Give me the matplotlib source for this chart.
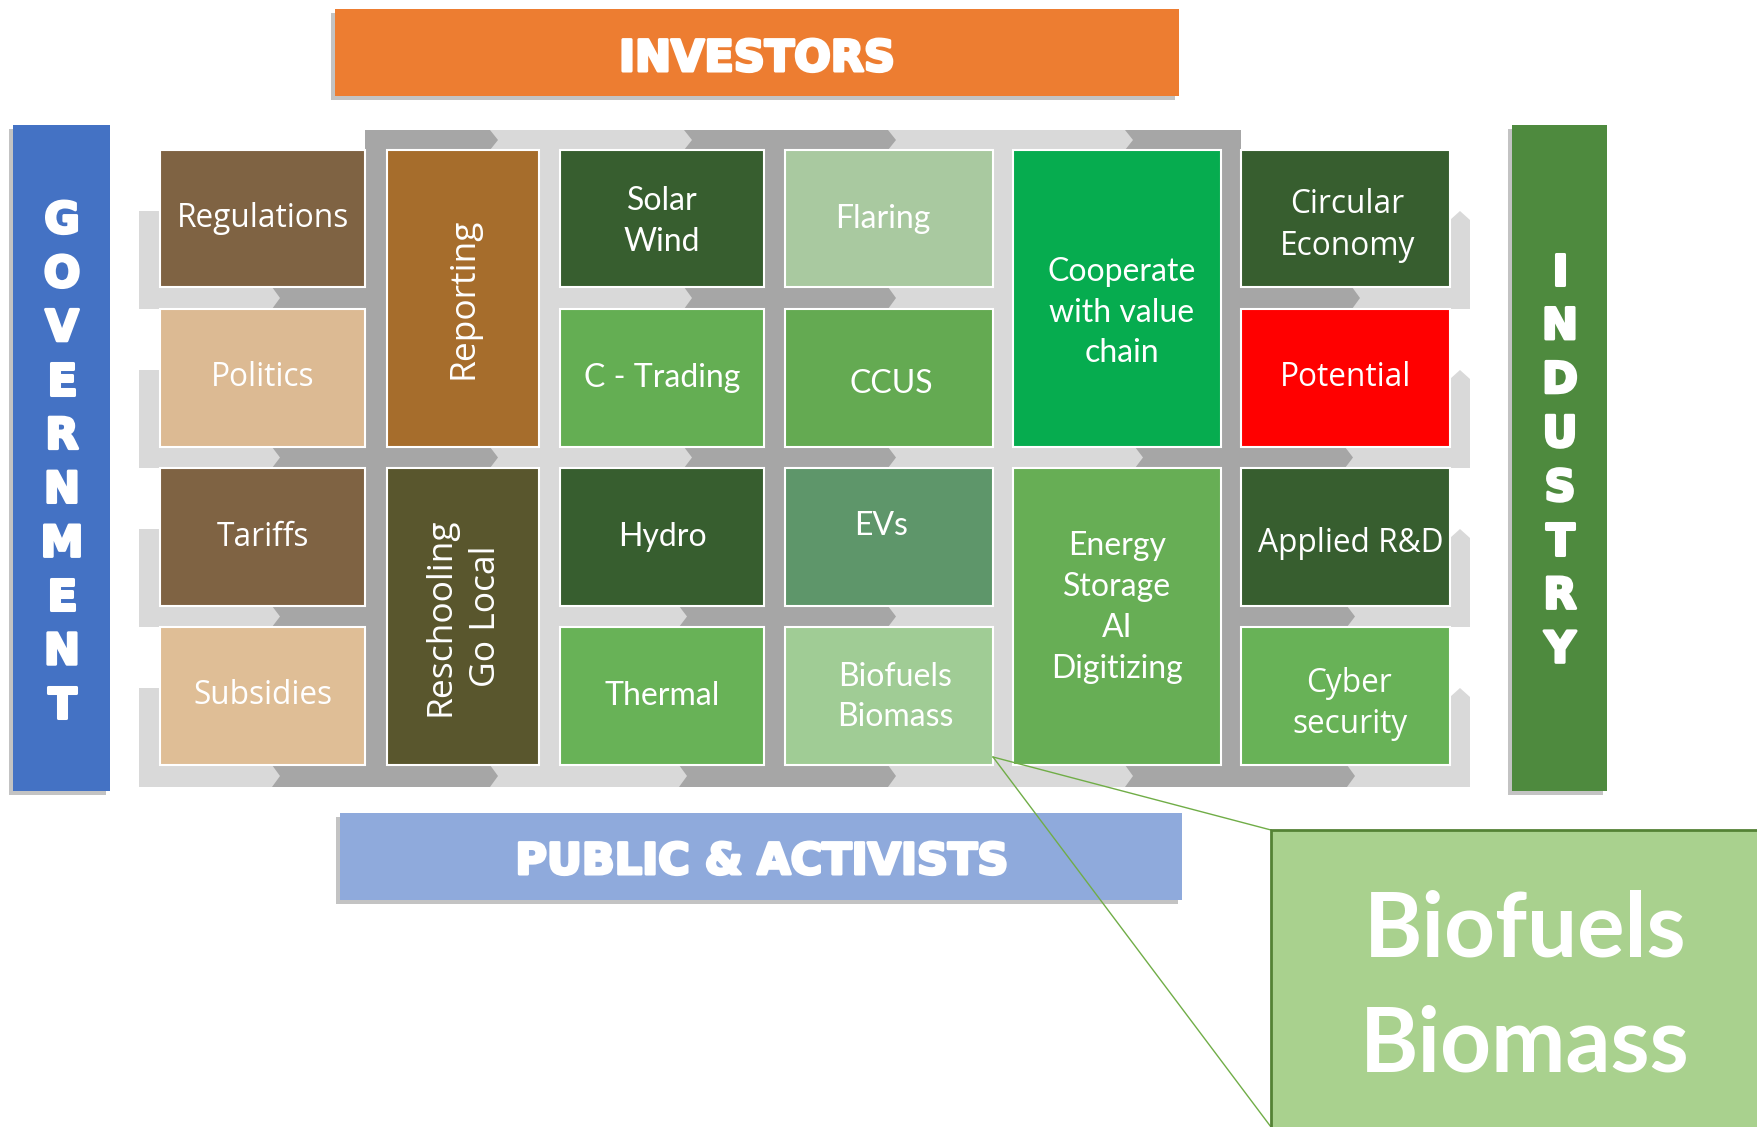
import matplotlib.pyplot as plt
from matplotlib.patches import Rectangle, Polygon
import matplotlib.patheffects as pe

W, H = 1757, 1127

# --- content ---
box_labels = ["Regulations", "Politics", "Tariffs", "Subsidies",
              "Reporting", "Reschooling\nGo Local",
              "Solar\nWind", "C - Trading", "Hydro", "Thermal",
              "Flaring", "CCUS", "EVs", "Biofuels\nBiomass",
              "Cooperate\nwith value\nchain", "Energy\nStorage\nAI\nDigitizing",
              "Circular\nEconomy", "Potential", "Applied R&D", "Cyber\nsecurity"]
box_cols = [0, 0, 0, 0, 1, 1, 2, 2, 2, 2, 3, 3, 3, 3, 4, 4, 5, 5, 5, 5]
box_rows = [0, 1, 2, 3, 0, 2, 0, 1, 2, 3, 0, 1, 2, 3, 0, 2, 0, 1, 2, 3]
box_span = [1, 1, 1, 1, 2, 2, 1, 1, 1, 1, 1, 1, 1, 1, 2, 2, 1, 1, 1, 1]
box_colors = ["#7F6343", "#DCBA93", "#7F6343", "#DFBE96",
              "#A66D2C", "#59562D",
              "#375E2F", "#64AE53", "#375E2F", "#68B257",
              "#A9C9A0", "#64AA52", "#5E966A", "#A0CC95",
              "#06AC4F", "#67AE55",
              "#375E2F", "#FF0000", "#375E2F", "#68B257"]
narrow_font = {"Solar\nWind", "C - Trading", "Hydro", "Thermal", "Flaring", "CCUS",
               "EVs", "Biofuels\nBiomass", "Cooperate\nwith value\nchain",
               "Energy\nStorage\nAI\nDigitizing"}
rotated = {"Reporting", "Reschooling\nGo Local"}

top_label = "INVESTORS"
bottom_label = "PUBLIC & ACTIVISTS"
left_label = "GOVERNMENT"
right_label = "INDUSTRY"
zoom_label = "Biofuels\nBiomass"

# --- layout (pixels) ---
col_x = [160, 387, 560, 785, 1013, 1241]
col_w = [205, 152, 204, 208, 208, 209]
row_y = [150, 309, 468, 627]
row_h = [137, 138, 138, 138]
band_y = [(130, 150), (287, 309), (447, 468), (606, 627), (765, 787)]
band_x = [(365, 1241), (139, 1469), (139, 1469), (139, 1469), (139, 1469)]
band_dark = [[(365, 490), (684, 888), (1125, 1241)],
             [(272, 490), (684, 888), (1125, 1352)],
             [(272, 490), (684, 888), (1135, 1345)],
             [(272, 490), (679, 888), (1135, 1347)],
             [(272, 490), (679, 888), (1125, 1347)]]
vcols = [(365, "#A6A6A6"), (539, "#D9D9D9"), (764, "#A6A6A6"),
         (993, "#D9D9D9"), (1221, "#A6A6A6")]
label_off = {"Cooperate\nwith value\nchain": (5, 14), "EVs": (-8, -11),
             "Energy\nStorage\nAI\nDigitizing": (0, -9), "CCUS": (2, 6),
             "Flaring": (-6, 0), "Biofuels\nBiomass": (6, 1), "Applied R&D": (5, 7),
             "Circular\nEconomy": (2, 7), "Cyber\nsecurity": (4, 8), "Solar\nWind": (0, 3)}
DARK, LIGHT = "#A6A6A6", "#D9D9D9"

fig = plt.figure(figsize=(W / 100, H / 100), dpi=100)
ax = fig.add_axes([0, 0, 1, 1])
ax.set_xlim(0, W)
ax.set_ylim(H, 0)
ax.axis("off")


def chevron(x0, x1, y0, y1, notch, tip, color, d=8):
    ym = (y0 + y1) / 2
    pts = [(x0, y0), (x1, y0)]
    if tip:
        pts.append((x1 + d, ym))
    pts += [(x1, y1), (x0, y1)]
    if notch:
        pts.append((x0 + d, ym))
    ax.add_patch(Polygon(pts, closed=True, fc=color, ec="none", zorder=2))


# grey flow bands
for (y0, y1), (bx0, bx1), segs in zip(band_y, band_x, band_dark):
    ax.add_patch(Rectangle((bx0, y0), bx1 - bx0, y1 - y0, fc=LIGHT, ec="none", zorder=1))
    for s0, s1 in segs:
        chevron(s0, s1, y0, y1, s0 > bx0, s1 < bx1, DARK)

for x, c in vcols:
    ax.add_patch(Rectangle((x, 150), 21, 615, fc=c, ec="none", zorder=3))

# side brackets
for i in range(4):
    top = row_y[i] + 61
    bot = band_y[i + 1][1]
    ax.add_patch(Rectangle((139, top), 21, bot - top, fc=LIGHT, ec="none", zorder=1))
    ax.add_patch(Polygon([(1450, top + 9), (1460, top), (1470, top + 9), (1470, bot), (1450, bot)],
                         closed=True, fc=LIGHT, ec="none", zorder=1))

# boxes
for lab, c, r, sp, col in zip(box_labels, box_cols, box_rows, box_span, box_colors):
    x0 = col_x[c]
    y0 = row_y[r]
    h = row_y[r + sp - 1] + row_h[r + sp - 1] - y0
    ax.add_patch(Rectangle((x0, y0), col_w[c], h, fc=col, ec="white", lw=1.5, zorder=4))
    if lab in narrow_font:
        fam, fs, ls = "Lato", 23, 1.45
    elif lab in rotated:
        fam, fs, ls = "Open Sans", 25.5, 1.45
    else:
        fam, fs, ls = "Open Sans", 22.8, 1.35
    dx, dy = label_off.get(lab, (0, 0))
    ax.text(x0 + col_w[c] / 2 + dx, y0 + h / 2 + dy, lab,
            ha="center", va="center", ma="center", color="white",
            fontsize=fs, family=fam,
            rotation=90 if lab in rotated else 0, linespacing=ls, zorder=5)

# stakeholder bars
shadow = [pe.SimplePatchShadow(offset=(-3, -3), alpha=0.35, shadow_rgbFace="#555555"), pe.Normal()]
bars = [((335, 9), 844, 87, "#ED7D31"), ((340, 813), 842, 87, "#8FAADC"),
        ((13, 125), 97, 666, "#4472C4"), ((1512, 125), 95, 666, "#4E8A3E")]
for (x, y), w, h, c in bars:
    p = Rectangle((x, y), w, h, fc=c, ec="none", zorder=4)
    p.set_path_effects(shadow)
    ax.add_patch(p)

bold = dict(color="white", fontsize=31, fontweight="heavy", family="DejaVu Sans",
            ha="center", va="center", zorder=5,
            path_effects=[pe.withStroke(linewidth=2.2, foreground="white")])
ax.text(757, 59, top_label, **bold)
ax.text(762, 862, bottom_label, **bold)
for i, ch in enumerate(left_label):
    ax.text(62, 221 + i * 53.9, ch, **bold)
for i, ch in enumerate(right_label):
    ax.text(1560, 273 + i * 53.9, ch, **bold)

# zoom callout
ax.plot([993, 1271], [757, 830], color="#70AD47", lw=1, zorder=6)
ax.plot([993, 1271], [757, 1127], color="#70AD47", lw=1, zorder=6)
ax.add_patch(Rectangle((1271, 830), 500, 320, fc="#A9D18E", ec="#548235", lw=2, zorder=6))
ax.text(1525, 988, zoom_label, color="white", fontsize=64, fontweight="bold", family="Lato",
        ha="center", va="center", linespacing=1.5, zorder=7)

fig.savefig("out.png", dpi=100)
